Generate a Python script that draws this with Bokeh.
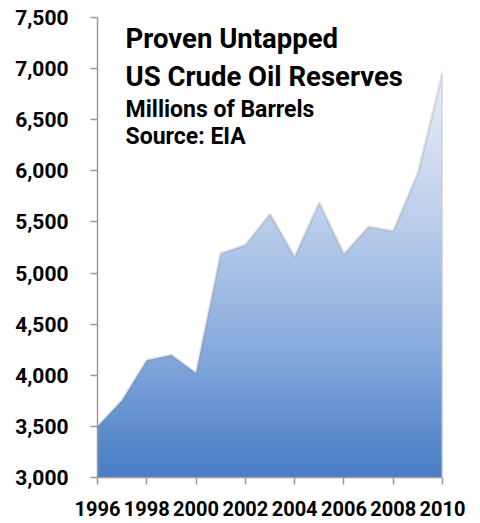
import numpy as np
from bokeh.plotting import figure
from bokeh.models import Range1d, FixedTicker, NumeralTickFormatter, Label
from bokeh.embed import file_html
from bokeh.resources import INLINE

# ---- data ----
years = [1996, 1997, 1998, 1999, 2000, 2001, 2002, 2003, 2004, 2005, 2006, 2007, 2008, 2009, 2010]
reserves = [3500, 3755, 4147, 4199, 4022, 5192, 5274, 5577, 5159, 5688, 5185, 5453, 5408, 5976, 6950]
x_ticks = [1996, 1998, 2000, 2002, 2004, 2006, 2008, 2010]
y_ticks = [3000, 3500, 4000, 4500, 5000, 5500, 6000, 6500, 7000, 7500]
title_lines = ["Proven Untapped", "US Crude Oil Reserves"]
sub_lines = ["Millions of Barrels", "Source: EIA"]

# gradient colour stops (value -> rgb)
grad_vals = [3000, 3166, 4291, 5563, 6913, 7500]
grad_r = [74, 80, 138, 190, 232, 246]
grad_g = [126, 131, 172, 208, 238, 248]
grad_b = [196, 200, 222, 236, 248, 252]

y0, y1 = y_ticks[0], y_ticks[-1]
x0, x1 = years[0], years[-1]

p = figure(width=480, height=523, output_backend="svg", toolbar_location=None,
           x_range=Range1d(x0, x1), y_range=Range1d(y0, y1),
           min_border_left=97, min_border_right=38, min_border_top=17, min_border_bottom=46)
p.outline_line_color = None
p.grid.visible = False
p.background_fill_color = "white"
p.border_fill_color = "white"

# gradient image
n = 300
vals = np.linspace(y0, y1, n)
r = np.interp(vals, grad_vals, grad_r).astype(np.uint32)
g = np.interp(vals, grad_vals, grad_g).astype(np.uint32)
b = np.interp(vals, grad_vals, grad_b).astype(np.uint32)
col = (255 << 24) | (b << 16) | (g << 8) | r
img = np.repeat(col.reshape(n, 1), 2, axis=1).astype(np.uint32)
p.image_rgba(image=[img], x=x0, y=y0, dw=x1 - x0, dh=y1 - y0)

# mask above the series
p.varea(x=years, y1=reserves, y2=[y1] * len(years), fill_color="white")
# soft shadow along the edge
p.line(years, reserves, line_color="#777777", line_alpha=0.18, line_width=3)
p.segment(x0=[x1], y0=[y0], x1=[x1], y1=[reserves[-1]], line_color="#c8c8c8", line_width=2)

# axes
for ax in (p.xaxis[0], p.yaxis[0]):
    ax.axis_line_color = "#9a9a9a"
    ax.axis_line_width = 1.5
    ax.major_tick_line_color = "#9a9a9a"
    ax.major_tick_line_width = 1.5
    ax.major_tick_in = 0
    ax.major_tick_out = 7
    ax.minor_tick_line_color = None
    ax.major_label_text_color = "black"
    ax.major_label_text_font_style = "bold"
    ax.major_label_text_font = "Roboto"

p.yaxis.ticker = FixedTicker(ticks=y_ticks)
p.yaxis.formatter = NumeralTickFormatter(format="0,0")
p.yaxis.major_label_text_font_size = "21px"
p.yaxis.major_label_standoff = 22

p.xaxis.ticker = FixedTicker(ticks=x_ticks)
p.xaxis.major_label_text_font_size = "20px"
p.xaxis.major_label_standoff = 16

# title labels (data-unit anchors)
lx = 1997.14
for txt, yy in zip(title_lines, [7295, 6920]):
    p.add_layout(Label(x=lx, y=yy, text=txt, text_font="Roboto", text_font_style="bold",
                       text_font_size="27.5px", text_color="black", text_baseline="alphabetic"))
for txt, yy in zip(sub_lines, [6600, 6335]):
    p.add_layout(Label(x=lx, y=yy, text=txt, text_font="Roboto", text_font_style="bold",
                       text_font_size="23px", text_color="black", text_baseline="alphabetic"))

open("out.html", "w").write(file_html(p, INLINE))
